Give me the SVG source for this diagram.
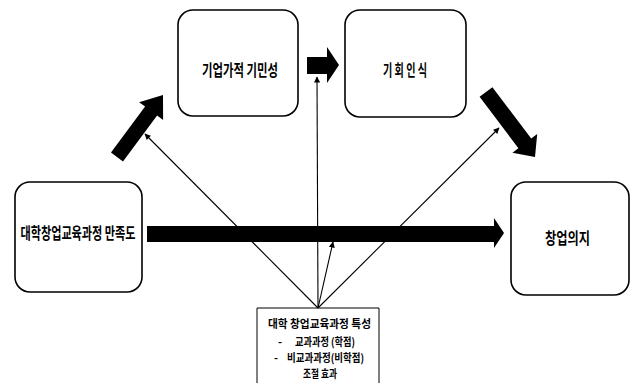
<svg xmlns="http://www.w3.org/2000/svg" width="634" height="383" viewBox="0 0 634 383">
<defs>
<style>
.box{fill:#fff;stroke:#000;stroke-width:1.6}
.lab{font-family:"Noto Sans CJK KR","Noto Sans",sans-serif;font-weight:bold;font-size:16px;fill:#000}
.sm{font-family:"Noto Sans CJK KR","Noto Sans",sans-serif;font-weight:bold;font-size:11px;fill:#000}
.thin{stroke:#000;stroke-width:1.1;fill:none;marker-end:url(#ah)}
.big{fill:#000}
</style>
<marker id="ah" viewBox="0 0 10 10" refX="9" refY="5" markerWidth="7" markerHeight="6" markerUnits="userSpaceOnUse" orient="auto">
<path d="M0,0 L10,5 L0,10 z" fill="#000"/>
</marker>
</defs>
<rect width="634" height="383" fill="#fff"/>

<g id="node-satisfaction">
<rect class="box" x="15" y="182" width="127" height="110" rx="15"/>
<text class="lab" x="78" y="239" text-anchor="middle" textLength="115" lengthAdjust="spacingAndGlyphs">대학창업교육과정 만족도</text>
</g>
<g id="node-alertness">
<rect class="box" x="178" y="10" width="120" height="106" rx="15"/>
<text class="lab" x="240" y="76" text-anchor="middle" textLength="76" lengthAdjust="spacingAndGlyphs">기업가적 기민성</text>
</g>
<g id="node-opportunity">
<rect class="box" x="345" y="10" width="121" height="107" rx="15"/>
<text class="lab" x="405" y="76" text-anchor="middle" textLength="44" lengthAdjust="spacingAndGlyphs">기 회 인 식</text>
</g>
<g id="node-intention">
<rect class="box" x="511" y="182" width="118" height="113" rx="15"/>
<text class="lab" x="567.5" y="244" text-anchor="middle" textLength="45" lengthAdjust="spacingAndGlyphs">창업의지</text>
</g>
<g id="node-moderator">
<path d="M257,390 V308 H379 V390" fill="#fff" stroke="#000" stroke-width="1"/>
<text class="sm" x="319.5" y="327.5" text-anchor="middle" textLength="103" lengthAdjust="spacingAndGlyphs">대학 창업교육과정 특성</text>
<text class="sm" x="278" y="346">-</text>
<text class="sm" x="295" y="346" textLength="60" lengthAdjust="spacingAndGlyphs">교과과정 (학점)</text>
<text class="sm" x="274" y="362">-</text>
<text class="sm" x="287" y="362" textLength="77" lengthAdjust="spacingAndGlyphs">비교과과정(비학점)</text>
<text class="sm" x="320" y="378" text-anchor="middle" textLength="34" lengthAdjust="spacingAndGlyphs">조절 효과</text>
</g>

<g id="connectors">
<line class="thin" x1="318" y1="308" x2="145" y2="134"/>
<line class="thin" x1="318" y1="308" x2="317" y2="77"/>
<line class="thin" x1="318" y1="308" x2="333" y2="242"/>
<line class="thin" x1="318" y1="308" x2="499" y2="128"/>
<polygon class="big" points="123,161.5 157.1,115.6 163.1,120 163,95 139.1,102.2 145.1,106.6 111,152.5"/>
<polygon class="big" points="307,57 327,57 327,47 339,65 327,83 327,74 307,74"/>
<polygon class="big" points="479.6,96.8 518.4,148.2 512.4,152.7 535,157 537.2,134.1 531.2,138.6 492.4,87.2"/>
<polygon class="big" points="147,226 494,226 494,218 504,233 494,248 494,242 147,242"/>
</g>
</svg>
